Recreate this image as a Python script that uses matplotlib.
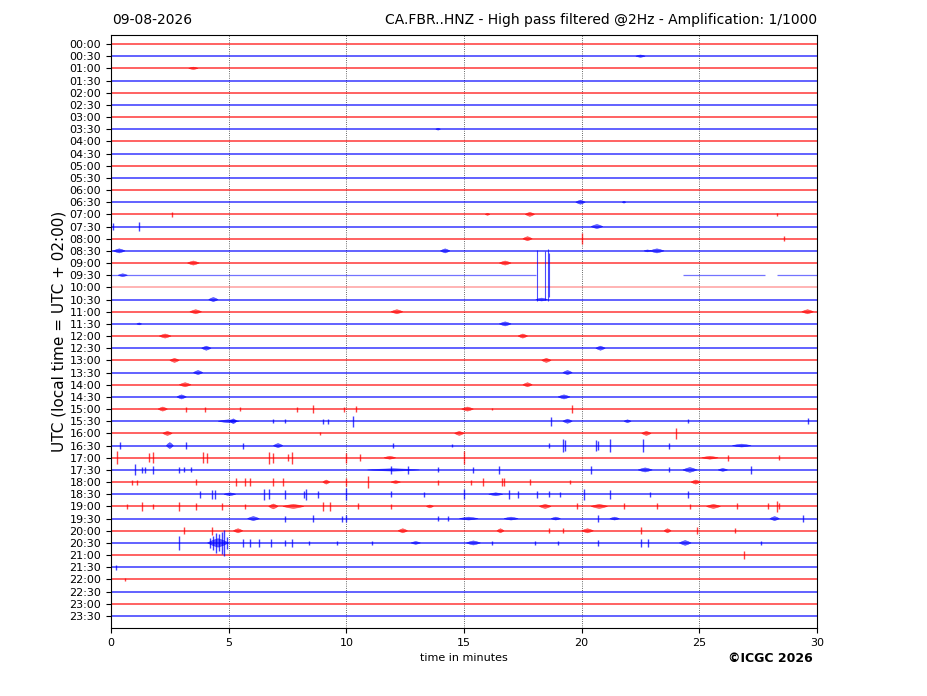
import matplotlib
matplotlib.use("Agg")
import matplotlib.pyplot as plt
import numpy as np

# ---------------- data ----------------
row_labels = ["%02d:%02d" % (h, m) for h in range(24) for m in (0, 30)]
row_colors = ["#ff0000", "#0000ff"]
x_ticks = [0, 5, 10, 15, 20, 25, 30]
date_text = "09-08-2026"
title_text = "CA.FBR..HNZ - High pass filtered @2Hz - Amplification: 1/1000"

# bursts: row, centre minute, half amplitude (row units), duration (minutes)
burst_row = ["00:30", "01:00", "03:30", "06:30", "06:30", "07:00", "07:00", "07:30",
             "08:00", "08:30", "08:30", "08:30", "08:30", "09:00", "09:00", "09:30",
             "10:30", "10:30", "11:00", "11:00", "11:00", "11:30", "11:30", "12:00",
             "12:00", "12:30", "12:30", "13:00", "13:00", "13:30", "13:30", "14:00",
             "14:00", "14:30", "14:30", "15:00", "15:00", "15:30", "15:30", "15:30",
             "15:30", "16:00", "16:00", "16:00", "16:30", "16:30", "16:30", "17:00",
             "17:00", "17:30", "17:30", "17:30", "17:30", "18:00", "18:00", "18:00",
             "18:30", "18:30", "19:00", "19:00", "19:00", "19:00", "19:00", "19:00",
             "19:30", "19:30", "19:30", "19:30", "19:30", "19:30", "20:00", "20:00",
             "20:00", "20:00", "20:00", "20:30", "20:30", "20:30", "20:30"]
burst_min = [22.5, 3.5, 13.9, 19.95, 21.8, 16.0, 17.8, 20.65,
             17.7, 0.35, 14.2, 23.2, 22.8, 3.5, 16.75, 0.5,
             4.35, 18.3, 3.6, 12.15, 29.6, 1.2, 16.75, 2.3,
             17.5, 4.05, 20.8, 2.7, 18.5, 3.7, 19.4, 3.15,
             17.7, 3.0, 19.25, 2.2, 15.15, 5.0, 5.2, 19.4,
             21.95, 2.4, 14.8, 22.75, 2.5, 7.1, 26.8, 11.85,
             25.45, 12.0, 22.7, 24.6, 26.0, 9.15, 12.1, 24.85,
             5.05, 16.35, 6.9, 7.75, 13.55, 18.45, 20.75, 25.6,
             6.05, 15.2, 17.0, 18.9, 21.4, 28.2, 5.4, 12.4,
             16.55, 20.25, 23.65, 4.55, 12.95, 15.4, 24.4]
burst_amp = [0.10, 0.10, 0.08, 0.17, 0.08, 0.08, 0.17, 0.17,
             0.17, 0.17, 0.17, 0.17, 0.08, 0.17, 0.17, 0.12,
             0.17, 0.12, 0.17, 0.17, 0.17, 0.08, 0.17, 0.17,
             0.17, 0.17, 0.17, 0.17, 0.17, 0.17, 0.17, 0.17,
             0.17, 0.17, 0.17, 0.17, 0.17, 0.12, 0.2, 0.17,
             0.12, 0.17, 0.17, 0.17, 0.25, 0.17, 0.12, 0.12,
             0.12, 0.10, 0.17, 0.2, 0.12, 0.17, 0.12, 0.17,
             0.12, 0.12, 0.2, 0.17, 0.12, 0.17, 0.17, 0.17,
             0.17, 0.12, 0.12, 0.12, 0.12, 0.17, 0.17, 0.17,
             0.17, 0.17, 0.17, 0.35, 0.12, 0.17, 0.2]
burst_dur = [0.4, 0.4, 0.2, 0.4, 0.15, 0.2, 0.4, 0.5,
             0.4, 0.5, 0.4, 0.6, 0.3, 0.5, 0.5, 0.4,
             0.4, 0.5, 0.5, 0.5, 0.5, 0.2, 0.5, 0.5,
             0.4, 0.4, 0.4, 0.4, 0.4, 0.4, 0.4, 0.5,
             0.4, 0.4, 0.5, 0.4, 0.5, 0.9, 0.3, 0.4,
             0.3, 0.4, 0.4, 0.4, 0.3, 0.4, 0.8, 0.5,
             0.7, 2.2, 0.6, 0.6, 0.4, 0.3, 0.4, 0.4,
             0.5, 0.6, 0.4, 0.9, 0.3, 0.5, 0.7, 0.6,
             0.5, 0.8, 0.6, 0.4, 0.4, 0.4, 0.4, 0.4,
             0.3, 0.5, 0.3, 0.9, 0.4, 0.6, 0.5]

# spikes: row, minute, half amplitude (row units)
spike_row = ["07:00", "07:00", "07:30", "07:30", "08:00", "08:00",
             "15:00", "15:00", "15:00", "15:00", "15:00", "15:00", "15:00", "15:00", "15:00",
             "15:30", "15:30", "15:30", "15:30", "15:30", "15:30", "15:30", "15:30",
             "16:00", "16:00",
             "16:30", "16:30", "16:30", "16:30", "16:30", "16:30", "16:30", "16:30", "16:30",
             "16:30", "16:30", "16:30", "16:30",
             "17:00", "17:00", "17:00", "17:00", "17:00", "17:00", "17:00", "17:00", "17:00",
             "17:00", "17:00", "17:00", "17:00", "17:00",
             "17:30", "17:30", "17:30", "17:30", "17:30", "17:30", "17:30", "17:30", "17:30",
             "17:30", "17:30", "17:30", "17:30", "17:30", "17:30",
             "18:00", "18:00", "18:00", "18:00", "18:00", "18:00", "18:00", "18:00", "18:00",
             "18:00", "18:00", "18:00", "18:00", "18:00", "18:00", "18:00", "18:00",
             "18:30", "18:30", "18:30", "18:30", "18:30", "18:30", "18:30", "18:30", "18:30",
             "18:30", "18:30", "18:30", "18:30", "18:30", "18:30", "18:30", "18:30", "18:30",
             "18:30", "18:30", "18:30", "18:30",
             "19:00", "19:00", "19:00", "19:00", "19:00", "19:00", "19:00", "19:00", "19:00",
             "19:00", "19:00", "19:00", "19:00", "19:00", "19:00", "19:00", "19:00", "19:00",
             "19:00",
             "19:30", "19:30", "19:30", "19:30", "19:30", "19:30", "19:30", "19:30",
             "20:00", "20:00", "20:00", "20:00", "20:00", "20:00", "20:00",
             "20:30", "20:30", "20:30", "20:30", "20:30", "20:30", "20:30", "20:30", "20:30",
             "20:30", "20:30", "20:30", "20:30", "20:30", "20:30", "20:30", "20:30", "20:30",
             "20:30", "20:30", "20:30", "20:30", "20:30", "20:30",
             "21:00", "21:30", "22:00"]
spike_min = [2.6, 28.3, 0.1, 1.2, 20.0, 28.6,
             3.2, 4.0, 5.5, 7.9, 8.6, 9.9, 10.4, 16.2, 19.6,
             6.9, 7.4, 9.0, 9.2, 10.3, 18.7, 24.5, 29.6,
             8.9, 24.0,
             0.38, 3.2, 5.6, 12.0, 14.5, 18.6, 19.2, 19.3, 20.6,
             20.7, 21.2, 22.6, 23.7,
             0.25, 1.6, 1.8, 3.9, 4.1, 6.7, 6.9, 7.5, 7.7,
             10.0, 10.6, 15.0, 26.2, 28.4,
             1.0, 1.3, 1.45, 1.8, 2.9, 3.1, 3.4, 11.9, 12.6,
             13.9, 15.4, 16.5, 20.4, 23.7, 27.2,
             0.9, 1.1, 3.6, 5.3, 5.7, 5.9, 6.9, 7.3, 10.0,
             10.9, 13.9, 15.3, 15.8, 16.6, 16.7, 17.8, 19.5,
             3.8, 4.3, 4.4, 6.5, 6.7, 7.4, 8.2, 8.3, 8.8,
             10.0, 11.9, 13.3, 15.0, 16.9, 17.3, 18.1, 18.6, 19.1,
             20.1, 21.2, 22.9, 24.5, 28.3,
             0.7, 1.3, 1.8, 2.9, 3.6, 4.7, 5.7, 9.0, 9.3,
             10.5, 11.9, 19.8, 21.8, 23.2, 24.6, 26.6, 27.9, 28.4,
             29.4,
             7.4, 8.6, 9.8, 10.0, 13.9, 14.3, 20.7, 22.5,
             3.1, 4.3, 18.6, 19.2, 24.9, 26.5, 27.6,
             2.9, 4.2, 4.35, 4.45, 4.6, 4.7, 4.8, 4.95, 5.6,
             5.9, 6.3, 6.8, 7.4, 7.7, 8.4, 9.6, 11.1, 16.2,
             18.0, 19.0, 20.7, 22.5, 22.8, 26.9,
             0.2, 0.6, 13.3]
spike_amp = [0.2, 0.15, 0.3, 0.35, 0.45, 0.2,
             0.2, 0.2, 0.15, 0.2, 0.3, 0.2, 0.25, 0.1, 0.35,
             0.15, 0.15, 0.2, 0.2, 0.45, 0.35, 0.15, 0.25,
             0.1, 0.45,
             0.3, 0.3, 0.25, 0.2, 0.15, 0.2, 0.55, 0.45, 0.45,
             0.35, 0.55, 0.55, 0.25,
             0.55, 0.35, 0.45, 0.45, 0.4, 0.5, 0.4, 0.3, 0.5,
             0.4, 0.3, 0.55, 0.25, 0.2,
             0.45, 0.25, 0.25, 0.3, 0.25, 0.2, 0.2, 0.3, 0.35,
             0.2, 0.25, 0.3, 0.3, 0.2, 0.3,
             0.2, 0.2, 0.25, 0.3, 0.35, 0.35, 0.3, 0.35, 0.3,
             0.5, 0.2, 0.2, 0.3, 0.35, 0.35, 0.25, 0.15,
             0.3, 0.35, 0.35, 0.45, 0.4, 0.35, 0.3, 0.45, 0.3,
             0.5, 0.25, 0.2, 0.4, 0.35, 0.3, 0.3, 0.25, 0.2,
             0.45, 0.35, 0.2, 0.3, 0.45,
             0.2, 0.35, 0.2, 0.4, 0.3, 0.3, 0.2, 0.35, 0.35,
             0.25, 0.2, 0.25, 0.25, 0.25, 0.2, 0.25, 0.25, 0.25,
             0.3,
             0.25, 0.3, 0.25, 0.3, 0.2, 0.2, 0.3, 0.3,
             0.3, 0.35, 0.2, 0.2, 0.3, 0.2, 0.2,
             0.55, 0.4, 0.6, 0.8, 0.7, 0.9, 1.1, 0.5, 0.3,
             0.3, 0.3, 0.3, 0.25, 0.3, 0.2, 0.2, 0.15, 0.2,
             0.2, 0.2, 0.25, 0.3, 0.3, 0.3,
             0.2, 0.15, 0.1]

# large glitch spikes around 09:30 (minute, half amplitude in rows)
glitch_min = [18.1, 18.45, 18.55, 18.62]
glitch_amp = [2.1, 2.0, 2.15, 1.8]
glitch_row = "09:30"

# trace 09:30 has data gaps: segments (start, end) in minutes
gap_row = "09:30"
gap_seg_start = [0.0, 24.3, 28.3]
gap_seg_end = [18.05, 27.8, 30.0]
pale_row = "10:00"

# ---------------- figure ----------------
fig = plt.figure(figsize=(9.27, 6.96), dpi=100)
ax = fig.add_axes([111 / 927, 1 - 628 / 696, 706 / 927, 593 / 696])

n = len(row_labels)
ypos = [-i for i in range(n)]

for i, lab in enumerate(row_labels):
    col = row_colors[i % 2]
    y = ypos[i]
    if lab == gap_row:
        for s, e in zip(gap_seg_start, gap_seg_end):
            ax.hlines(y, s, e, color=col, lw=0.9, alpha=0.55, zorder=2)
    elif lab == pale_row:
        ax.hlines(y, 0, 30, color=col, lw=1.2, alpha=0.35, zorder=2)
    else:
        ax.hlines(y, 0, 30, color=col, lw=1.2, alpha=0.72, zorder=2)

for r, t, a, d in zip(burst_row, burst_min, burst_amp, burst_dur):
    i = row_labels.index(r)
    y = ypos[i]
    col = row_colors[i % 2]
    xs = [t - d / 2, t - d / 4, t, t + d / 4, t + d / 2, t + d / 4, t, t - d / 4]
    ys = [y, y + a * 0.6, y + a, y + a * 0.6, y, y - a * 0.6, y - a, y - a * 0.6]
    ax.fill(xs, ys, color=col, alpha=0.6, lw=0.4, zorder=3)

for r, t, a in zip(spike_row, spike_min, spike_amp):
    i = row_labels.index(r)
    y = ypos[i]
    col = row_colors[i % 2]
    ax.vlines(t, y - a, y + a, color=col, lw=1.0, alpha=0.75, zorder=3)

gi = row_labels.index(glitch_row)
for t, a in zip(glitch_min, glitch_amp):
    ax.vlines(t, ypos[gi] - a, ypos[gi] + a, color=row_colors[gi % 2], lw=0.8, alpha=0.7, zorder=3)

for xv in x_ticks[1:-1]:
    ax.axvline(xv, color="black", lw=0.6, ls=":", alpha=0.8, zorder=1)

ax.set_xlim(0, 30)
ax.set_ylim(-(n - 1) - 0.99, 0.74)
ax.set_xticks(x_ticks)
ax.set_xticklabels([str(v) for v in x_ticks], fontsize=8)
ax.set_yticks(ypos)
ax.set_yticklabels(row_labels, fontsize=8)
ax.tick_params(axis="both", length=3.5, width=0.8)
ax.set_xlabel("time in minutes", fontsize=8, labelpad=4)
ax.set_ylabel("UTC (local time = UTC + 02:00)", fontsize=11, labelpad=2)

fig.text(112 / 927, 1 - 20 / 696, date_text, fontsize=10, ha="left", va="center")
fig.text(817 / 927, 1 - 20 / 696, title_text, fontsize=10, ha="right", va="center")
fig.text(770 / 927, 1 - 658 / 696, "\u00a9ICGC 2026", fontsize=9, fontweight="bold",
         ha="center", va="center")

fig.savefig("out.png", dpi=100)
